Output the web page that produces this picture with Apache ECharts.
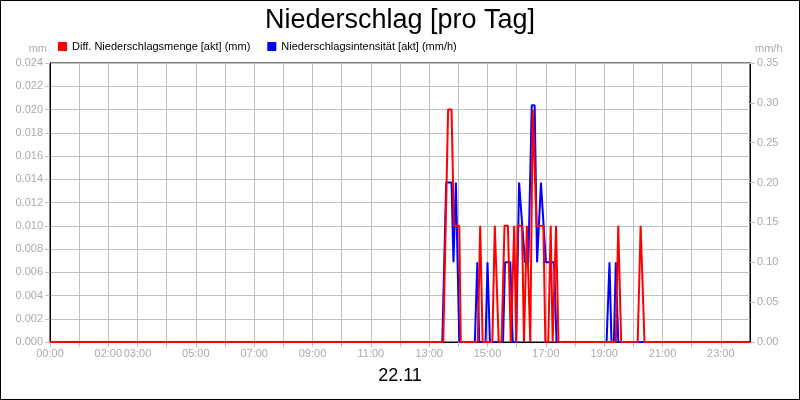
<!DOCTYPE html>
<html lang="de">
<head>
<meta charset="utf-8">
<title>Niederschlag [pro Tag]</title>
<script src="https://cdn.jsdelivr.net/npm/echarts@6/dist/echarts.min.js"></script>
<style>
    html, body { margin: 0; padding: 0; background: #fff; }
    #chart1 { width: 800px; height: 400px; }
</style>
</head>
<body>
<div id="chart1"></div>
<script type="text/javascript">
// Diff. Niederschlagsmenge (mm), linke Achse
var mengeZeit = ['00:00', '13:29', '13:39', '13:46', '13:51', '14:02', '14:05', '14:40', '14:45', '14:50',
    '15:10', '15:15', '15:18', '15:23', '15:29', '15:35', '15:42', '15:48', '15:51', '15:55', '15:59',
    '16:02', '16:11', '16:15', '16:18', '16:21', '16:25', '16:28', '16:33', '16:37', '16:41', '16:55', '16:59',
    '17:05', '17:10', '17:14', '17:17', '17:21', '17:26', '19:24', '19:29', '19:35', '20:09', '20:15', '20:23', '24:00'];
var mengeWert = [0, 0, 0.02, 0.02, 0.01, 0.01, 0, 0, 0.01, 0,
    0, 0.01, 0.01, 0, 0, 0.01, 0.01, 0, 0, 0.01, 0,
    0.01, 0.01, 0, 0, 0.01, 0.01, 0, 0.02, 0.02, 0.01, 0.01, 0,
    0, 0.01, 0, 0, 0.01, 0, 0, 0.01, 0, 0, 0.01, 0, 0];

// Niederschlagsintensität (mm/h), rechte Achse
var intensZeit = ['00:00', '13:27', '13:35', '13:46', '13:50', '13:55', '13:57', '14:02', '14:34', '14:39', '14:43',
    '14:56', '15:00', '15:05', '15:32', '15:36', '15:47', '15:52', '15:59', '16:05', '16:07', '16:17', '16:24',
    '16:31', '16:37', '16:42', '16:50', '17:00', '17:17', '17:22', '19:05', '19:11', '19:15', '19:20', '19:24', '19:29', '24:00'];
var intensWert = [0, 0, 0.2, 0.2, 0.1, 0.2, 0.2, 0, 0, 0.1, 0,
    0, 0.1, 0, 0, 0.1, 0.1, 0, 0, 0.2, 0.2, 0.1, 0.1,
    0.297, 0.297, 0.1, 0.2, 0.1, 0.1, 0, 0, 0.1, 0, 0, 0.1, 0, 0];

// Beschriftete Stunden der x-Achse
var stundenLabels = [0, 2, 3, 5, 7, 9, 11, 13, 15, 17, 19, 21, 23];

function stunden(t) {
    var p = t.split(':');
    return parseInt(p[0], 10) + parseInt(p[1], 10) / 60;
}
function paare(zeit, wert) {
    return zeit.map(function (t, i) { return [stunden(t), wert[i]]; });
}
function hh(h) {
    return (h < 10 ? '0' : '') + h + ':00';
}

var grau = '#aaaaaa';
var gitter = '#c0c0c0';
var schrift = '"Liberation Sans", Arial, sans-serif';

var myEcharts = echarts.init(document.getElementById('chart1'));
myEcharts.setOption({
    animation: false,
    textStyle: { fontFamily: schrift },
    title: {
        text: 'Niederschlag [pro Tag]',
        left: 'center',
        top: 2,
        textStyle: { fontSize: 27, fontWeight: 'normal', color: '#000', fontFamily: schrift }
    },
    legend: {
        left: 53,
        top: 36,
        icon: 'rect',
        itemWidth: 9,
        itemHeight: 9,
        itemGap: 17,
        textStyle: { fontSize: 11, color: '#000', fontFamily: schrift },
        data: ['Diff. Niederschlagsmenge [akt] (mm)', 'Niederschlagsintensität [akt] (mm/h)']
    },
    graphic: [
        {
            type: 'rect',
            shape: { x: 0.5, y: 0.5, width: 799, height: 399 },
            style: { fill: 'none', stroke: '#000', lineWidth: 1 },
            silent: true
        },
        {
            type: 'text',
            left: 'center',
            top: 367,
            style: { text: '22.11', fontSize: 18, fill: '#000', fontFamily: schrift }
        }
    ],
    grid: {
        left: 50,
        right: 50,
        top: 63,
        bottom: 58,
        show: true,
        borderColor: '#000',
        borderWidth: 1
    },
    xAxis: {
        type: 'value',
        min: 0,
        max: 24,
        interval: 1,
        axisLine: { lineStyle: { color: '#000' } },
        axisTick: { length: 5, lineStyle: { color: gitter } },
        axisLabel: {
            color: grau,
            fontSize: 11,
            margin: 6,
            showMaxLabel: false,
            formatter: function (v) {
                return stundenLabels.indexOf(v) >= 0 ? hh(v) : '';
            }
        },
        splitLine: { show: true, lineStyle: { color: gitter } }
    },
    yAxis: [
        {
            type: 'value',
            min: 0,
            max: 0.024,
            interval: 0.002,
            name: 'mm',
            nameGap: 9,
            nameTextStyle: { color: grau, fontSize: 11, align: 'right', padding: [0, 3, 0, 0] },
            axisLine: { show: true, lineStyle: { color: '#000' } },
            axisTick: { show: true, length: 5, lineStyle: { color: gitter } },
            axisLabel: {
                color: grau,
                fontSize: 11,
                margin: 7,
                formatter: function (v) { return v.toFixed(3); }
            },
            splitLine: { show: true, lineStyle: { color: gitter } }
        },
        {
            type: 'value',
            min: 0,
            max: 0.35,
            interval: 0.05,
            position: 'right',
            name: 'mm/h',
            nameGap: 9,
            nameTextStyle: { color: grau, fontSize: 11, align: 'left', padding: [0, 0, 0, 5] },
            axisLine: { show: true, lineStyle: { color: '#000' } },
            axisTick: { show: true, length: 5, lineStyle: { color: gitter } },
            axisLabel: {
                color: grau,
                fontSize: 11,
                margin: 7,
                formatter: function (v) { return v.toFixed(2); }
            },
            splitLine: { show: false }
        }
    ],
    series: [
        {
            name: 'Niederschlagsintensität [akt] (mm/h)',
            type: 'line',
            yAxisIndex: 1,
            showSymbol: false,
            z: 2,
            itemStyle: { color: '#0000ff' },
            lineStyle: { color: '#0000ff', width: 2 },
            data: paare(intensZeit, intensWert)
        },
        {
            name: 'Diff. Niederschlagsmenge [akt] (mm)',
            type: 'line',
            yAxisIndex: 0,
            showSymbol: false,
            z: 3,
            itemStyle: { color: '#ff0000' },
            lineStyle: { color: '#ff0000', width: 2 },
            data: paare(mengeZeit, mengeWert)
        }
    ]
});
</script>
</body>
</html>
